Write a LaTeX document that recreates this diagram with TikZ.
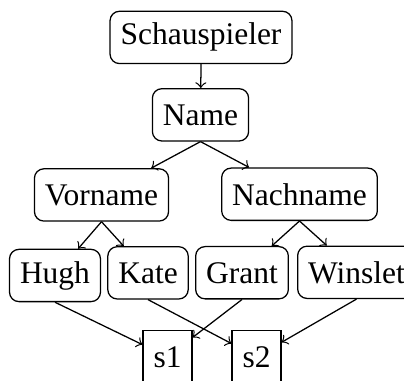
\documentclass[tikz,border=0pt]{standalone}
\usepackage{fontspec}
\setmainfont{Liberation Serif}
\begin{document}
\begin{tikzpicture}[x=0.3175pt,y=-0.3175pt,
  rbox/.style={draw,rounded corners=3pt,minimum height=16.6pt,anchor=base},
  sbox/.style={draw,minimum height=16.6pt,anchor=base},
  conn/.style={->}]
\useasboundingbox (0,0) rectangle (404,380);
\clip (0,0) rectangle (404,380);
\node[rbox] (sch) at (201,45) {Schauspieler};
\node[rbox] (name) at (200.5,125) {Name};
\node[rbox] (vor) at (101.5,205) {Vorname};
\node[rbox] (nach) at (299.5,205) {Nachname};
\node[rbox] (hugh) at (55,283) {Hugh};
\node[rbox] (kate) at (148,283) {Kate};
\node[rbox] (grant) at (242,283) {Grant};
\node[rbox] (win) at (356.5,283) {Winslet};
\node[sbox] (s1) at (167.5,367) {s1};
\node[sbox] (s2) at (256.5,367) {s2};
\draw[conn] (sch.south) -- (name);
\draw[conn] (name.south) -- (vor);
\draw[conn] (name.south) -- (nach);
\draw[conn] (vor.south) -- (hugh);
\draw[conn] (vor.south) -- (kate);
\draw[conn] (nach.south) -- (grant);
\draw[conn] (nach.south) -- (win);
\draw[conn] (hugh.south) -- (s1);
\draw[conn] (kate.south) -- (s2);
\draw[conn] (grant.south) -- (s1);
\draw[conn] (win.south) -- (s2);
\end{tikzpicture}
\end{document}
